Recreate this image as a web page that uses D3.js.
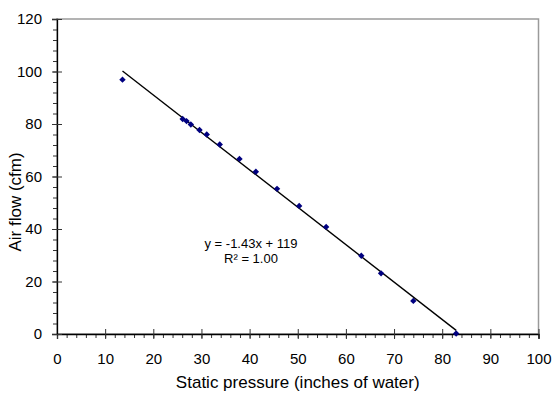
<!DOCTYPE html>
<html>
<head>
<meta charset="utf-8">
<script src="https://cdn.jsdelivr.net/npm/d3@7"></script>
<style>
  body { margin: 0; background: #fff; }
  text { font-family: "Liberation Sans", Arial, sans-serif; fill: #000; }
</style>
</head>
<body>
<div id="chart"></div>
<script>
// static pressure vs air flow
var pressure = [13.6, 26.1, 26.9, 27.8, 29.6, 31.1, 33.8, 37.9, 41.3, 45.7, 50.3, 55.9, 63.2, 67.3, 74.0, 82.9]
var airflow  = [96.9, 81.9, 81.1, 79.8, 77.7, 76.0, 72.2, 66.7, 61.8, 55.3, 48.8, 40.8, 29.8, 23.1, 12.6, 0.2]
var xTicks = [0, 10, 20, 30, 40, 50, 60, 70, 80, 90, 100]
var yTicks = [0, 20, 40, 60, 80, 100, 120]
var eqLabel = 'y = -1.43x + 119'
var r2Label = 'R\u00b2 = 1.00'

var W = 560, H = 399
// note: "top" is taken by window.top, so plot edges get a prefix
var pLeft = 57, pRight = 538.5, pTop = 19, pBottom = 334

var svg = d3.select('#chart').append('svg')
  .attr('width', W)
  .attr('height', H)

var x = d3.scaleLinear().domain([0, 100]).range([pLeft, pRight])
var y = d3.scaleLinear().domain([0, 120]).range([pBottom, pTop])

// plot area frame (grey top / right)
svg.append('rect')
  .attr('x', pLeft).attr('y', pTop)
  .attr('width', pRight - pLeft).attr('height', pBottom - pTop)
  .attr('fill', 'none')
  .attr('stroke', '#9a9a9a')
  .attr('stroke-width', 1.5)

// minor ticks
svg.append('g')
  .attr('transform', 'translate(0,' + pBottom + ')')
  .call(d3.axisBottom(x).tickValues(d3.range(0, 101, 2)).tickSize(4).tickFormat(''))
  .call(function(g){ g.select('.domain').remove() })
svg.append('g')
  .attr('transform', 'translate(' + pLeft + ',0)')
  .call(d3.axisLeft(y).tickValues(d3.range(0, 121, 4)).tickSize(4).tickFormat(''))
  .call(function(g){ g.select('.domain').remove() })

// major axes
var xAxis = svg.append('g')
  .attr('transform', 'translate(0,' + pBottom + ')')
  .call(d3.axisBottom(x).tickValues(xTicks).tickSizeOuter(0).tickSize(5).tickPadding(14))
xAxis.selectAll('.tick line').attr('y1', -5)

var yAxis = svg.append('g')
  .attr('transform', 'translate(' + pLeft + ',0)')
  .call(d3.axisLeft(y).tickValues(yTicks).tickSizeOuter(0).tickSize(5).tickPadding(10))
yAxis.selectAll('.tick line').attr('x1', 5)

svg.selectAll('.domain').attr('stroke', '#000').attr('stroke-width', 1.3)
svg.selectAll('.tick line').attr('stroke', '#333')
svg.selectAll('.tick text').style('font-size', '15px')

// linear trend (least squares over the points)
var mx = d3.mean(pressure), my = d3.mean(airflow)
var sxy = d3.sum(pressure, function(p, i){ return (p - mx) * (airflow[i] - my) })
var sxx = d3.sum(pressure, function(p){ return (p - mx) * (p - mx) })
var slope = sxy / sxx, intercept = my - slope * mx
var ext = d3.extent(pressure)

svg.append('path')
  .datum(ext)
  .attr('fill', 'none')
  .attr('stroke', '#000')
  .attr('stroke-width', 1.4)
  .attr('d', d3.line()
    .x(function(d){ return x(d) })
    .y(function(d){ return y(slope * d + intercept) }))

// points
svg.selectAll('.pt')
  .data(pressure)
  .enter()
    .append('path')
    .attr('class', 'pt')
    .attr('d', d3.symbol().type(d3.symbolDiamond2).size(26))
    .attr('fill', '#000080')
    .attr('transform', function(d, i){ return 'translate(' + x(d) + ',' + y(airflow[i]) + ')' })

// equation label
svg.append('text')
  .attr('x', 251).attr('y', 248)
  .attr('text-anchor', 'middle')
  .style('font-size', '13px')
  .text(eqLabel)
svg.append('text')
  .attr('x', 251).attr('y', 263)
  .attr('text-anchor', 'middle')
  .style('font-size', '13px')
  .text(r2Label)

// axis titles
svg.append('text')
  .attr('x', (pLeft + pRight) / 2).attr('y', 388)
  .attr('text-anchor', 'middle')
  .style('font-size', '17px')
  .text('Static pressure (inches of water)')

svg.append('text')
  .attr('transform', 'translate(21,202) rotate(-90)')
  .attr('text-anchor', 'middle')
  .style('font-size', '17px')
  .text('Air flow (cfm)')
</script>
</body>
</html>
